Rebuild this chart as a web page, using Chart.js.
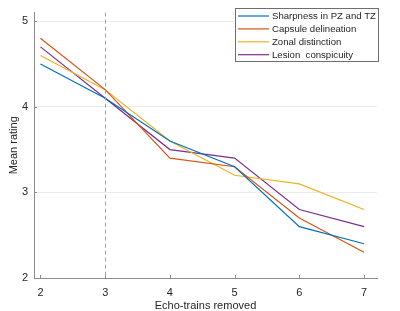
<!DOCTYPE html>
<html>
<head>
<meta charset="utf-8">
<script src="https://cdn.jsdelivr.net/npm/chart.js@4"></script>
<style>
  html, body { margin: 0; padding: 0; background: #fff; }
  #wrap { width: 400px; height: 311px; position: relative; }
</style>
</head>
<body>
<div id="wrap"><canvas id="chart"></canvas></div>
<script>
// data
const echoTrains = [2, 3, 4, 5, 6, 7];
const sharpness = [4.5, 4.1, 3.6, 3.3, 2.6, 2.4];
const capsule = [4.8, 4.2, 3.4, 3.3, 2.7, 2.3];
const zonal = [4.6, 4.2, 3.6, 3.2, 3.1, 2.8];
const lesion = [4.7, 4.1, 3.5, 3.4, 2.8, 2.6];
const seriesNames = ['Sharpness in PZ and TZ', 'Capsule delineation', 'Zonal distinction', 'Lesion  conspicuity'];
const xTicks = [2, 3, 4, 5, 6, 7];
const yTicks = [2, 3, 4, 5];
const cutoff = 3;

const colors = ['#0072BD', '#D95319', '#EDB120', '#7E2F8E'];
const FONT = 'Liberation Sans, Arial, sans-serif';

function toPoints(vals) {
    return echoTrains.map((x, i) => ({ x: x, y: vals[i] }));
}

// dashed line at the cutoff + inward ticks + boxed legend
const extras = {
    id: 'extras',
    afterDatasetsDraw(chart) {
        const ctx = chart.ctx;
        const xs = chart.scales.x, ys = chart.scales.y;
        const a = chart.chartArea;
        ctx.save();
        // cutoff line
        ctx.strokeStyle = '#a0a0a0';
        ctx.lineWidth = 1;
        ctx.setLineDash([4, 3]);
        const cx = Math.round(xs.getPixelForValue(cutoff)) + 0.5;
        ctx.beginPath();
        ctx.moveTo(cx, a.top);
        ctx.lineTo(cx, a.bottom);
        ctx.stroke();
        ctx.setLineDash([]);
        // small inward tick marks
        ctx.strokeStyle = '#8c8c8c';
        xTicks.forEach(v => {
            const px = Math.round(xs.getPixelForValue(v)) + 0.5;
            ctx.beginPath();
            ctx.moveTo(px, a.bottom);
            ctx.lineTo(px, a.bottom - 3);
            ctx.stroke();
        });
        yTicks.forEach(v => {
            const py = Math.round(ys.getPixelForValue(v)) + 0.5;
            ctx.beginPath();
            ctx.moveTo(a.left, py);
            ctx.lineTo(a.left + 3, py);
            ctx.stroke();
        });
        // legend box
        const bx = 235.5, by = 8.5, bw = 143, bh = 53;
        ctx.fillStyle = '#fff';
        ctx.fillRect(bx, by, bw, bh);
        ctx.strokeStyle = '#6e6e6e';
        ctx.strokeRect(bx, by, bw, bh);
        ctx.font = '9.6px ' + FONT;
        ctx.textBaseline = 'middle';
        chart.data.datasets.forEach((ds, i) => {
            const yy = 16 + i * 12.9;
            ctx.strokeStyle = ds.borderColor;
            ctx.lineWidth = 1.2;
            ctx.beginPath();
            ctx.moveTo(238, yy);
            ctx.lineTo(269, yy);
            ctx.stroke();
            ctx.fillStyle = '#262626';
            ctx.fillText(ds.label, 272, yy + 0.5);
        });
        ctx.restore();
    }
};

const ctx = document.getElementById('chart').getContext('2d');
new Chart(ctx, {
    type: 'line',
    data: {
        datasets: [sharpness, capsule, zonal, lesion].map((vals, i) => ({
            label: seriesNames[i],
            data: toPoints(vals),
            borderColor: colors[i],
            backgroundColor: colors[i],
            borderWidth: 1.2,
            pointRadius: 0,
            tension: 0
        }))
    },
    options: {
        responsive: true,
        maintainAspectRatio: false,
        animation: false,
        layout: { padding: { left: 0, right: 23, top: 8, bottom: 0 } },
        plugins: {
            legend: { display: false },
            tooltip: { enabled: false }
        },
        scales: {
            x: {
                type: 'linear',
                min: 1.9,
                max: 7.2,
                afterBuildTicks: (scale) => { scale.ticks = xTicks.map(v => ({ value: v })); },
                afterFit: (scale) => { scale.height = 33; },
                grid: { display: false, drawTicks: false },
                border: { color: '#8c8c8c', width: 1 },
                ticks: {
                    color: '#262626',
                    font: { family: FONT, size: 11 },
                    padding: 8
                },
                title: {
                    display: true,
                    text: 'Echo-trains removed',
                    color: '#262626',
                    font: { family: FONT, size: 11 },
                    padding: { top: 0, bottom: -2 }
                }
            },
            y: {
                min: 2,
                max: 5.1,
                afterBuildTicks: (scale) => { scale.ticks = yTicks.map(v => ({ value: v })); },
                afterFit: (scale) => { scale.width = 34; },
                grid: { color: '#ebebeb', drawTicks: false },
                border: { color: '#8c8c8c', width: 1 },
                ticks: {
                    color: '#262626',
                    font: { family: FONT, size: 11 },
                    padding: 6
                },
                title: {
                    display: true,
                    text: 'Mean rating',
                    color: '#262626',
                    font: { family: FONT, size: 11 },
                    padding: { top: 7, bottom: 0 }
                }
            }
        }
    },
    plugins: [extras]
});
</script>
</body>
</html>
